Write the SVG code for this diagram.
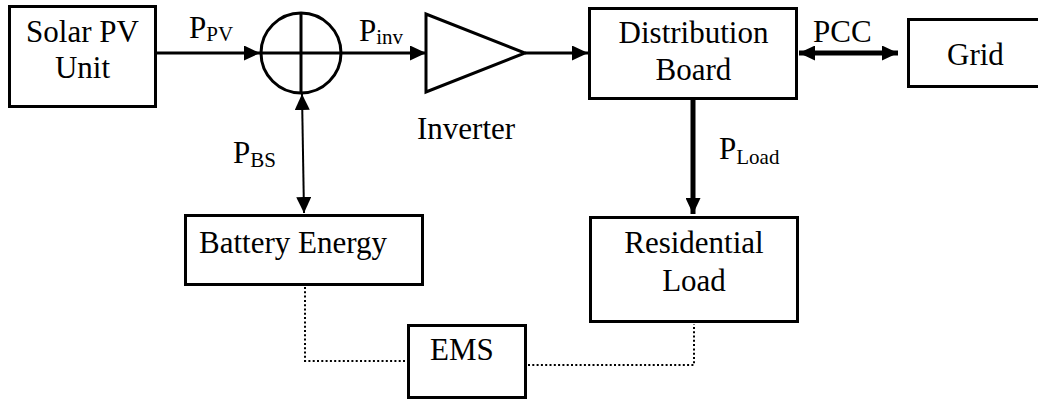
<svg xmlns="http://www.w3.org/2000/svg" width="1038" height="405" viewBox="0 0 1038 405">
  <defs>
    <marker id="ah" viewBox="0 0 16 15" refX="16" refY="7.5" markerWidth="16" markerHeight="15" markerUnits="userSpaceOnUse" orient="auto-start-reverse">
      <path d="M0,0 L16,7.5 L0,15 z" fill="#000"/>
    </marker>
  </defs>
  <rect width="1038" height="405" fill="#fff"/>

  <g id="connectors" fill="none" stroke="#000">
    <line stroke-width="3" x1="157" y1="53" x2="260" y2="53" marker-end="url(#ah)"/>
    <line stroke-width="3" x1="342" y1="53" x2="426" y2="53" marker-end="url(#ah)"/>
    <line stroke-width="3" x1="525" y1="53" x2="588" y2="53" marker-end="url(#ah)"/>
    <line stroke-width="5" x1="799" y1="53" x2="898" y2="53" marker-start="url(#ah)" marker-end="url(#ah)"/>
    <line stroke-width="5" x1="693" y1="100" x2="693" y2="214" marker-end="url(#ah)"/>
    <line stroke-width="2" x1="302" y1="94" x2="304" y2="213" marker-start="url(#ah)" marker-end="url(#ah)"/>
    <polyline stroke-width="2" stroke-dasharray="2 2.3" points="305,287 305,361 407,361"/>
    <polyline stroke-width="2" stroke-dasharray="2 2.3" points="528,365 694,365 694,324"/>
  </g>

  <g id="labels" fill="#000">
    <text style="font-family:'Liberation Serif',serif;font-size:31px" x="189" y="38">P<tspan style="font-size:21px" dy="3">PV</tspan></text>
    <text style="font-family:'Liberation Serif',serif;font-size:31px" x="359" y="41">P<tspan style="font-size:21px" dy="3">inv</tspan></text>
    <text style="font-family:'Liberation Serif',serif;font-size:31px" x="233" y="163">P<tspan style="font-size:21px" dy="4">BS</tspan></text>
    <text style="font-family:'Liberation Serif',serif;font-size:31px" x="719" y="159">P<tspan style="font-size:21px" dy="5">Load</tspan></text>
    <text style="font-family:'Liberation Serif',serif;font-size:31px" x="813" y="42">PCC</text>
  </g>

  <g id="solar">
    <rect fill="#fff" stroke="#000" stroke-width="3" x="9.5" y="6.5" width="146" height="100"/>
    <text style="font-family:'Liberation Serif',serif;font-size:31px" text-anchor="middle" x="82.5" y="42">Solar PV</text>
    <text style="font-family:'Liberation Serif',serif;font-size:31px" text-anchor="middle" x="82.5" y="78">Unit</text>
  </g>

  <g id="summer">
    <circle cx="301" cy="53" r="40" fill="#fff" stroke="#000" stroke-width="3"/>
    <line stroke="#000" stroke-width="3" x1="301" y1="13" x2="301" y2="93"/>
    <line stroke="#000" stroke-width="3" x1="261" y1="53" x2="341" y2="53"/>
  </g>

  <g id="inverter">
    <polygon points="426,14 426,92 525,53" fill="#fff" stroke="#000" stroke-width="3"/>
    <text style="font-family:'Liberation Serif',serif;font-size:31px" x="417" y="139">Inverter</text>
  </g>

  <g id="distribution">
    <rect fill="#fff" stroke="#000" stroke-width="3" x="589.5" y="8.5" width="207" height="90"/>
    <text style="font-family:'Liberation Serif',serif;font-size:31px" text-anchor="middle" x="693.5" y="43">Distribution</text>
    <text style="font-family:'Liberation Serif',serif;font-size:31px" text-anchor="middle" x="693.5" y="80">Board</text>
  </g>

  <g id="grid">
    <rect fill="#fff" stroke="#000" stroke-width="3" x="908.5" y="19.5" width="140" height="67"/>
    <text style="font-family:'Liberation Serif',serif;font-size:31px" x="947" y="65">Grid</text>
  </g>

  <g id="battery">
    <rect fill="#fff" stroke="#000" stroke-width="3" x="185.5" y="215.5" width="237" height="69"/>
    <text style="font-family:'Liberation Serif',serif;font-size:31px" x="199" y="253">Battery Energy</text>
  </g>

  <g id="residential">
    <rect fill="#fff" stroke="#000" stroke-width="3" x="590.5" y="217.5" width="207" height="104"/>
    <text style="font-family:'Liberation Serif',serif;font-size:31px" text-anchor="middle" x="694" y="253">Residential</text>
    <text style="font-family:'Liberation Serif',serif;font-size:31px" text-anchor="middle" x="694" y="291">Load</text>
  </g>

  <g id="ems">
    <rect fill="#fff" stroke="#000" stroke-width="3" x="408.5" y="325.5" width="117" height="72"/>
    <text style="font-family:'Liberation Serif',serif;font-size:31px" x="430" y="360">EMS</text>
  </g>
</svg>
